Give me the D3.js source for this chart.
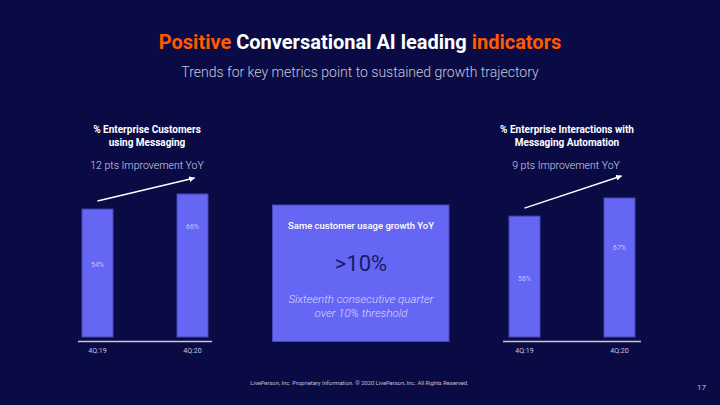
<!DOCTYPE html>
<html lang="en">
<head>
   <meta charset="UTF-8">
   <title>Positive Conversational AI leading indicators</title>
   <script src="https://d3js.org/d3.v7.min.js"></script>
   <style>
      body { margin: 0; background: #0a0b45; font-family: Roboto, "Noto Sans", Arial, sans-serif; }
      svg { display: block; }
      .bar { fill: #6666f5; stroke: #4646b4; stroke-width: 1; }
      .bar-label { font-size: 7px; fill: #c4c4ff; text-anchor: middle; }
      .tick-label { font-size: 7px; fill: #c8c8dc; text-anchor: middle; }
      .panel-title { font-size: 10px; font-weight: 700; fill: #ffffff; text-anchor: middle; }
      .panel-sub { font-size: 10.5px; font-weight: 300; fill: #d4d4e4; text-anchor: middle; }
   </style>
</head>
<body>
   <div id="chart"></div>
   <script>
      // data
      const quarters = ['4Q:19', '4Q:20'];
      const customersMessaging = [54, 66];
      const interactionsAutomation = [58, 67];
      const panelTitles = [
         ['% Enterprise Customers', 'using Messaging'],
         ['% Enterprise Interactions with', 'Messaging Automation']
      ];
      const panelSubtitles = ['12 pts Improvement YoY', '9 pts Improvement YoY'];
      const calloutLines = ['Same customer usage growth YoY', '>10%', 'Sixteenth consecutive quarter', 'over 10% threshold'];

      const width = 720, height = 405;
      const orange = '#ff5a00';
      const barW = 31;

      const svg = d3.select('#chart').append('svg')
         .attr('width', width)
         .attr('height', height);

      svg.append('rect').attr('width', width).attr('height', height).attr('fill', '#0a0b45');

      svg.append('defs').append('marker')
         .attr('id', 'head')
         .attr('viewBox', '0 0 10 10')
         .attr('refX', 9).attr('refY', 5)
         .attr('markerWidth', 6).attr('markerHeight', 6)
         .attr('markerUnits', 'userSpaceOnUse')
         .attr('orient', 'auto')
         .append('path').attr('d', 'M0,0 L10,5 L0,10 z').attr('fill', '#fff');

      // header
      const title = svg.append('text')
         .attr('x', width / 2).attr('y', 49)
         .attr('text-anchor', 'middle')
         .attr('font-size', 20).attr('font-weight', 700);
      title.append('tspan').attr('fill', orange).text('Positive');
      title.append('tspan').attr('fill', '#fff').text(' Conversational AI leading ');
      title.append('tspan').attr('fill', orange).text('indicators');

      svg.append('text')
         .attr('x', width / 2).attr('y', 77)
         .attr('text-anchor', 'middle')
         .attr('font-size', 14).attr('font-weight', 300)
         .attr('fill', '#c8c8da')
         .text('Trends for key metrics point to sustained growth trajectory');

      // one small bar chart per panel
      const panels = [
         { values: customersMessaging, x0: 78, x1: 212, yMin: -48, top: 194, labelDrop: [55, 32], rise: 16 },
         { values: interactionsAutomation, x0: 503, x1: 641, yMin: -2, top: 198, labelDrop: [62, 49], rise: 22 }
      ];
      const baseY = 337;

      panels.forEach((p, i) => {
         const g = svg.append('g');
         const cx = (p.x0 + p.x1) / 2;

         const x = d3.scalePoint()
            .domain(quarters)
            .range([p.x0, p.x1])
            .padding(((p.x1 - p.x0) / 95 - 1) / 2);
         const y = d3.scaleLinear()
            .domain([p.yMin, d3.max(p.values)])
            .range([baseY, p.top]);

         const rows = quarters.map((q, j) => ({ q, v: p.values[j], drop: p.labelDrop[j] }));

         g.selectAll('.bar')
            .data(rows)
            .enter()
            .append('rect')
            .attr('class', 'bar')
            .attr('x', d => x(d.q) - barW / 2)
            .attr('width', barW)
            .attr('y', d => y(d.v))
            .attr('height', d => baseY - y(d.v));

         g.selectAll('.bar-label')
            .data(rows)
            .enter()
            .append('text')
            .attr('class', 'bar-label')
            .attr('x', d => x(d.q))
            .attr('y', d => y(d.v) + d.drop + 2.5)
            .text(d => d.v + '%');

         g.selectAll('.tick-label')
            .data(rows)
            .enter()
            .append('text')
            .attr('class', 'tick-label')
            .attr('x', d => x(d.q))
            .attr('y', 353)
            .text(d => d.q);

         g.append('line')
            .attr('x1', p.x0).attr('x2', p.x1)
            .attr('y1', 341.5).attr('y2', 341.5)
            .attr('stroke', '#c8c8d2').attr('stroke-width', 1.3);

         // trend arrow
         g.append('line')
            .attr('x1', x(quarters[0])).attr('y1', y(p.values[0]) - 8)
            .attr('x2', x(quarters[1]) + 2).attr('y2', y(p.values[1]) - p.rise)
            .attr('stroke', '#fff').attr('stroke-width', 1.4)
            .attr('marker-end', 'url(#head)');

         panelTitles[i].forEach((t, k) => {
            g.append('text')
               .attr('class', 'panel-title')
               .attr('x', cx + (i === 0 ? 2 : -5)).attr('y', 132.5 + k * 13)
               .text(t);
         });
         g.append('text')
            .attr('class', 'panel-sub')
            .attr('x', cx + (i === 0 ? 2 : -6)).attr('y', 168.5)
            .text(panelSubtitles[i]);
      });

      // callout box
      const box = svg.append('g');
      box.append('rect')
         .attr('x', 272.5).attr('y', 205)
         .attr('width', 176.5).attr('height', 136.5)
         .attr('fill', '#6666f5').attr('stroke', '#4646b4');
      box.append('text')
         .attr('x', 361).attr('y', 228.5)
         .attr('text-anchor', 'middle')
         .attr('font-size', 9.5).attr('font-weight', 500).attr('fill', '#fff')
         .text(calloutLines[0]);
      box.append('text')
         .attr('x', 361).attr('y', 271)
         .attr('text-anchor', 'middle')
         .attr('font-size', 22).attr('fill', '#1a1a66')
         .text(calloutLines[1]);
      calloutLines.slice(2).forEach((t, k) => {
         box.append('text')
            .attr('x', 361).attr('y', 303 + k * 13.5)
            .attr('text-anchor', 'middle')
            .attr('font-size', 11.5).attr('font-weight', 300).attr('font-style', 'italic')
            .attr('fill', '#d8d8ff')
            .text(t);
      });

      // footer
      svg.append('text')
         .attr('x', 359.5).attr('y', 384.5)
         .attr('text-anchor', 'middle')
         .attr('font-size', 5.8).attr('fill', '#c0c0d0')
         .text('LivePerson, Inc. Proprietary Information. © 2020 LivePerson, Inc. All Rights Reserved.');
      svg.append('text')
         .attr('x', 706).attr('y', 390)
         .attr('text-anchor', 'end')
         .attr('font-size', 8).attr('fill', '#c0c0d0')
         .text('17');
   </script>
</body>
</html>
